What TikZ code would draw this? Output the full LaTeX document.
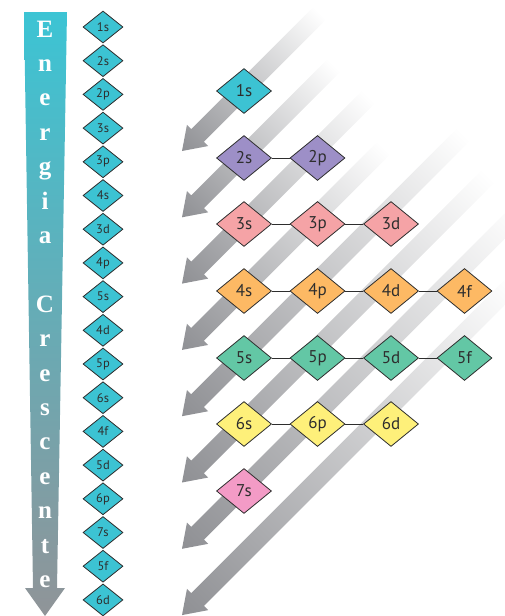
\documentclass[tikz,border=0pt]{standalone}
\usepackage{fontspec}
\setmainfont{Liberation Serif}
\setsansfont{PT Sans}
\usepackage{tikz}
\usetikzlibrary{shapes.geometric,positioning}
\definecolor{cyanorb}{HTML}{3CC3D3}
\definecolor{lilac}{HTML}{9D8FC7}
\definecolor{salmon}{HTML}{F5A3A6}
\definecolor{orangeorb}{HTML}{FDB964}
\definecolor{greenorb}{HTML}{63C7A5}
\definecolor{yelloworb}{HTML}{FEF07A}
\definecolor{pinkorb}{HTML}{F39BC6}
\definecolor{arrowgray}{HTML}{8F9094}
\definecolor{linegray}{HTML}{2E2E2E}
\definecolor{topcyan}{HTML}{3CC4D4}
\definecolor{botgray}{HTML}{909498}

\begin{document}
\begin{tikzpicture}[x=1pt, y=-1pt,
  orb/.style={diamond, draw=linegray, line width=0.8pt, inner sep=0pt, minimum width=55pt, minimum height=45pt, text=linegray, font=\sffamily\fontsize{17}{17}\selectfont},
  mini/.style={diamond, draw=linegray, line width=0.8pt, fill=cyanorb, inner sep=0pt, minimum width=40pt, minimum height=32pt, text=linegray, font=\sffamily\fontsize{12.5}{12.5}\selectfont},
  letter/.style={anchor=base, text=white, font=\bfseries\fontsize{25}{25}\selectfont},
  link/.style={draw=linegray, line width=0.8pt}]
\useasboundingbox (0,0) rectangle (504,616);

%energy arrow
\shade[top color=topcyan, bottom color=botgray] (24,12) -- (67,12) -- (57,588) -- (65,588) -- (45,616) -- (25,588) -- (33,588) -- cycle;
\foreach \ch [count=\i from 0] in {E,n,e,r,g,i,a} \node[letter] (e\i) at (45,37+34.4*\i) {\ch};
\foreach \ch [count=\i from 8] in {C,r,e,s,c,e,n,t,e} \node[letter] (c\i) at (45,37+34.4*\i) {\ch};

%filling order
\foreach \lab [count=\i from 0] in {1s,2s,2p,3s,3p,4s,3d,4p,5s,4d,5p,6s,4f,5d,6p,7s,5f,6d}
  \node[mini] (m\lab) at (103,27+33.7*\i) {\lab};

%diagonal arrows
\foreach \k/\len in {0/195,1/215,2/264,3/286,4/399,5/434,6/480,7/470}
  \shade[left color=arrowgray, right color=white, transform canvas={shift={(182,151+66.3*\k)}, rotate=45}]
    (0,0) -- (22,-15) -- (22,-9) -- (\len,-9) -- (\len,9) -- (22,9) -- (22,15) -- cycle;

%row 1
\node[orb, fill=cyanorb] (o1s) at (244,91) {1s};
%row 2
\node[orb, fill=lilac] (o2s) at (244,158) {2s};
\node[orb, fill=lilac] (o2p) at (317.5,158) {2p};
\draw[link] (o2s) -- (o2p);
%row 3
\node[orb, fill=salmon] (o3s) at (244,224) {3s};
\node[orb, fill=salmon] (o3p) at (317.5,224) {3p};
\node[orb, fill=salmon] (o3d) at (391,224) {3d};
\draw[link] (o3s) -- (o3p) (o3p) -- (o3d);
%row 4
\node[orb, fill=orangeorb] (o4s) at (244,291) {4s};
\node[orb, fill=orangeorb] (o4p) at (317.5,291) {4p};
\node[orb, fill=orangeorb] (o4d) at (391,291) {4d};
\node[orb, fill=orangeorb] (o4f) at (464.5,291) {4f};
\draw[link] (o4s) -- (o4p) (o4p) -- (o4d) (o4d) -- (o4f);
%row 5
\node[orb, fill=greenorb] (o5s) at (244,358) {5s};
\node[orb, fill=greenorb] (o5p) at (317.5,358) {5p};
\node[orb, fill=greenorb] (o5d) at (391,358) {5d};
\node[orb, fill=greenorb] (o5f) at (464.5,358) {5f};
\draw[link] (o5s) -- (o5p) (o5p) -- (o5d) (o5d) -- (o5f);
%row 6
\node[orb, fill=yelloworb] (o6s) at (244,424) {6s};
\node[orb, fill=yelloworb] (o6p) at (317.5,424) {6p};
\node[orb, fill=yelloworb] (o6d) at (391,424) {6d};
\draw[link] (o6s) -- (o6p) (o6p) -- (o6d);
%row 7
\node[orb, fill=pinkorb] (o7s) at (244,491) {7s};
\end{tikzpicture}
\end{document}
